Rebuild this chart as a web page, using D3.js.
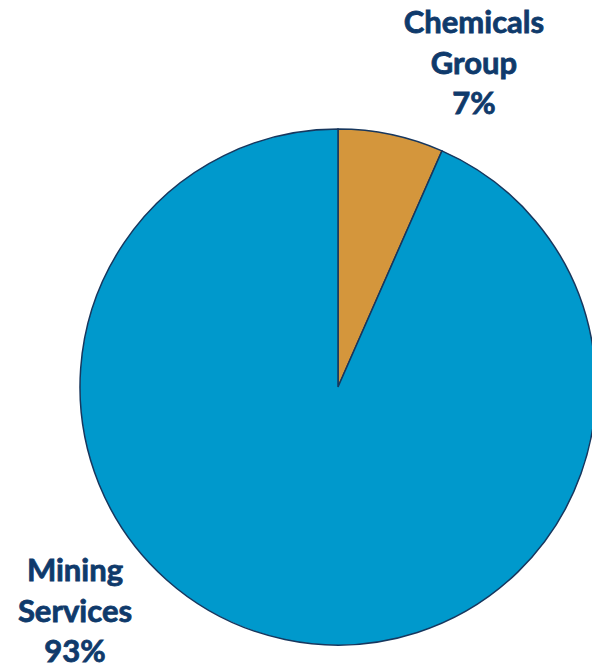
<!DOCTYPE html>
<html><head><meta charset="utf-8">
<script src="https://cdn.jsdelivr.net/npm/d3@7"></script>
<style>body{margin:0;background:#fff}svg{display:block}</style>
</head><body>
<svg id="c" width="592" height="669"></svg>
<script>
const categories = ["Chemicals Group", "Mining Services"];
const labelLines = [["Chemicals", "Group"], ["Mining", "Services"]];
const values = [6.6, 93.4];
const colors = ["#D4963C", "#0099CC"];

const svg = d3.select("#c");
const cx = 338, cy = 387, r = 258;
const pie = d3.pie().sort(null).value(d => d)(values);
const arc = d3.arc().innerRadius(0).outerRadius(r);
const g = svg.append("g").attr("transform", `translate(${cx},${cy})`);
g.selectAll("path").data(pie).join("path")
  .attr("d", arc)
  .attr("fill", (d, i) => colors[i])
  .attr("stroke", "#17375E")
  .attr("stroke-width", 1.5)
  .attr("stroke-linejoin", "miter");

const labelPos = [{x: 474, y: 33}, {x: 75, y: 581}];
const lh = 40.5;
labelPos.forEach((p, i) => {
  const t = svg.append("text")
    .attr("text-anchor", "middle")
    .attr("font-family", "Lato, 'Open Sans', sans-serif")
    .attr("font-weight", "bold")
    .attr("font-size", 31)
    .attr("fill", "#0F3A6B")
    .attr("stroke", "#0F3A6B")
    .attr("stroke-width", 0.8);
  const lines = [...labelLines[i], Math.round(values[i]) + "%"];
  lines.forEach((s, j) => {
    t.append("tspan").attr("x", p.x).attr("y", p.y + j * lh).text(s);
  });
});
</script>
</body></html>
